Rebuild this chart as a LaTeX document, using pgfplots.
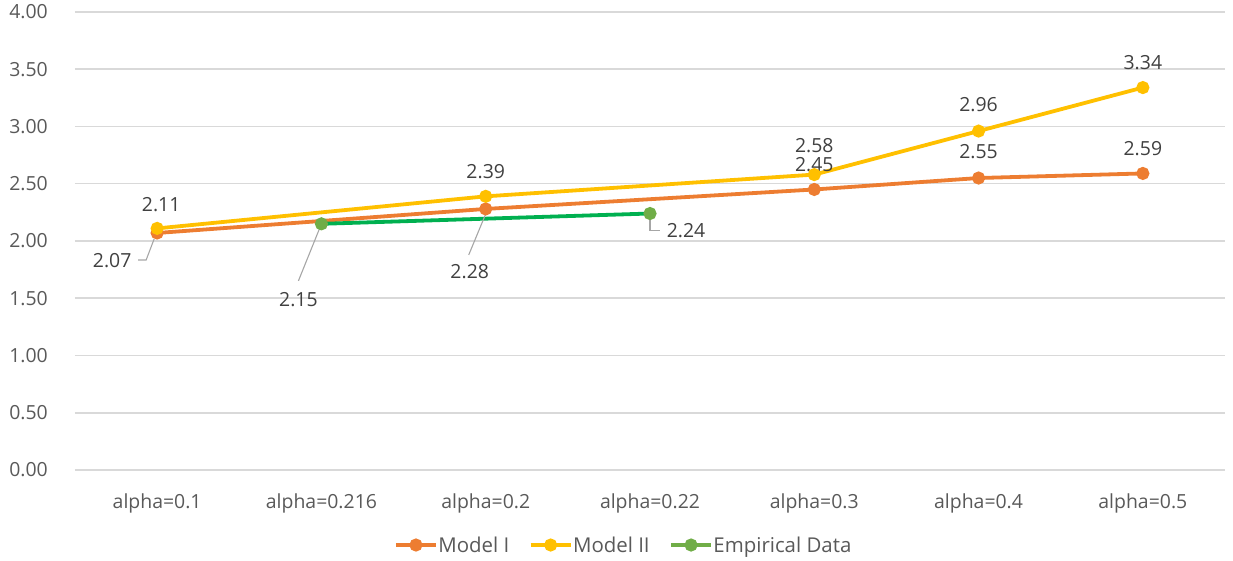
\documentclass[border=0pt]{standalone}
\usepackage{pgfplots}
\pgfplotsset{compat=1.18}
\usepackage{fontspec}
\setmainfont{Open Sans}

\definecolor{modelI}{HTML}{ED7D31}
\definecolor{modelII}{HTML}{FFC000}
\definecolor{empline}{HTML}{00B050}
\definecolor{empmark}{HTML}{70AD47}
\definecolor{gridgray}{HTML}{D9D9D9}
\definecolor{ticktext}{HTML}{595959}
\definecolor{lbltext}{HTML}{404040}
\definecolor{leadergray}{HTML}{A6A6A6}

\begin{document}
\begin{tikzpicture}[
  lbl/.style={font=\fontsize{19.5}{23}\selectfont, text=lbltext, inner sep=0pt, anchor=center},
  leader/.style={draw=leadergray, line width=1.1bp}
]
\begin{axis}[
  scale only axis,
  width=1150bp, height=458bp,
  xmin=-0.5, xmax=6.5, ymin=0, ymax=4,
  axis line style={draw=none},
  ytick={0,0.5,1,1.5,2,2.5,3,3.5,4},
  ymajorgrids,
  grid style={color=gridgray, line width=1.5bp},
  major tick length=0pt,
  /pgf/number format/.cd, fixed, fixed zerofill, precision=2, assume math mode=true,
  /pgfplots/.cd,
  tick label style={font=\fontsize{19.5}{23}\selectfont, text=ticktext},
  yticklabel style={anchor=east, inner sep=0pt, xshift=-27bp},
  xtick={0,1,2,3,4,5,6},
  xticklabels={alpha=0.1, alpha=0.216, alpha=0.2, alpha=0.22, alpha=0.3, alpha=0.4, alpha=0.5},
  xticklabel style={anchor=base, inner sep=0pt, yshift=-38bp},
  legend style={at={(0.4765,-0.1638)}, anchor=center, legend columns=-1,
    draw=none, fill=none, font=\fontsize{20.5}{24}\selectfont, text=ticktext,
    nodes={inner sep=0.5bp},
    /tikz/every even column/.append style={column sep=19bp}},
  legend image code/.code={%
    \draw[mark repeat=2, mark phase=2, #1]
      plot coordinates {(0bp,0bp) (20bp,0bp) (40bp,0bp)};},
]
\coordinate (sw) at (rel axis cs:0,0);

% Model I
\addplot[color=modelI, line width=3.8bp, mark=*, mark size=4.6bp,
  mark options={fill=modelI, draw=modelI}, forget plot]
  coordinates {(0,2.07) (2,2.28) (4,2.45) (5,2.55) (6,2.59)};
% Model II
\addplot[color=modelII, line width=3.8bp, mark=*, mark size=4.6bp,
  mark options={fill=modelII, draw=modelII}, forget plot]
  coordinates {(0,2.11) (2,2.39) (4,2.58) (5,2.96) (6,3.34)};
% Empirical data
\addplot[color=empline, line width=3.8bp, mark=*, mark size=4.6bp,
  mark options={fill=empmark, draw=empmark}, forget plot]
  coordinates {(1,2.15) (3,2.24)};

\addlegendimage{color=modelI, line width=3.8bp, mark=*, mark size=4.6bp, mark options={fill=modelI}}
\addlegendentry{Model I}
\addlegendimage{color=modelII, line width=3.8bp, mark=*, mark size=4.6bp, mark options={fill=modelII}}
\addlegendentry{Model II}
\addlegendimage{color=empmark, line width=3.8bp, mark=*, mark size=4.6bp, mark options={fill=empmark}}
\addlegendentry{Empirical Data}

% Value labels above the points
\node[lbl, xshift=4bp, yshift=24bp] at (axis cs:0,2.11) {2.11};
\node[lbl, yshift=25bp] at (axis cs:2,2.39) {2.39};
\node[lbl, yshift=29bp] at (axis cs:4,2.58) {2.58};
\node[lbl, yshift=26.5bp] at (axis cs:5,2.96) {2.96};
\node[lbl, yshift=25bp] at (axis cs:6,3.34) {3.34};
\node[lbl, yshift=24.5bp] at (axis cs:4,2.45) {2.45};
\node[lbl, yshift=26bp] at (axis cs:5,2.55) {2.55};
\node[lbl, yshift=25bp] at (axis cs:6,2.59) {2.59};

% Value labels moved off their points, with leader lines
\node[lbl, xshift=-45bp, yshift=-28bp] at (axis cs:0,2.07) {2.07};
\draw[leader] (axis cs:0,2.07) ++(-3bp,-6bp) -- ++(-8bp,-21bp) -- ++(-8bp,0bp);

\node[lbl, xshift=-23bp, yshift=-76bp] at (axis cs:1,2.15) {2.15};
\draw[leader] (axis cs:1,2.15) ++(-2bp,-5bp) -- ++(-21bp,-52bp);

\node[lbl, xshift=-16bp, yshift=-63bp] at (axis cs:2,2.28) {2.28};
\draw[leader] (axis cs:2,2.28) ++(0bp,-5bp) -- ++(-17bp,-41bp);

\node[lbl, xshift=36bp, yshift=-17bp] at (axis cs:3,2.24) {2.24};
\draw[leader] (axis cs:3,2.24) ++(0bp,-5bp) -- ++(0bp,-12bp) -- ++(10bp,0bp);
\end{axis}
\pgfresetboundingbox
\path (sw) ++(-75bp,-91bp) rectangle ++(1233bp,561bp);
\end{tikzpicture}
\end{document}
